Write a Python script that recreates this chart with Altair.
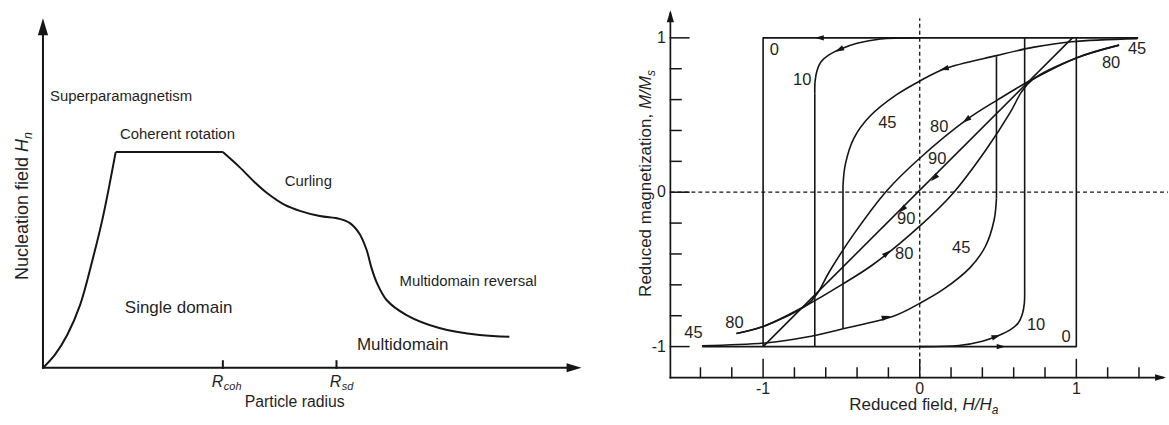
import altair as alt
import pandas as pd

FONT = "Liberation Sans"
INK = "#151515"
TXT = "#1f1f1f"

# ======================= LEFT PANEL (arbitrary units 0..100) =======================
NUC_R = [0.0, 2.2, 4.5, 6.9, 9.1, 11.1, 13.5, 33.4, 36.5, 39.3, 41.6, 44.9, 47.7,
         51.4, 55.1, 57.0, 58.8, 60.1, 61.0, 62.0, 63.8, 67.5, 73.6, 81.1, 86.6]
NUC_HN = [0.0, 3.7, 9.4, 18.0, 30.3, 42.9, 61.7, 61.7, 57.4, 53.1, 50.0, 46.6, 44.9,
          43.4, 42.6, 41.4, 38.3, 33.7, 28.6, 24.3, 19.4, 15.1, 11.4, 9.4, 8.9]
PLATEAU = (6, 7)  # indices of the coherent-rotation plateau ends

LEFT_TICK_R = [33.4, 54.5]
LEFT_TICK_LABEL_R = [31.35, 53.25]
LEFT_TICK_SUB = ["coh", "sd"]

REGION_SMALL = ["Superparamagnetism", "Coherent rotation", "Curling", "Multidomain reversal"]
REGION_SMALL_R = [1.3, 14.3, 44.9, 66.2]
REGION_SMALL_HN = [77.4, 66.6, 53.1, 24.6]
REGION_BIG = ["Single domain", "Multidomain"]
REGION_BIG_R = [15.2, 58.3]
REGION_BIG_HN = [17.1, 6.6]

# ======================= RIGHT PANEL (reduced field / magnetization) ===============
H0_TOP = [1.395, -1.0, -1.0]
M0_TOP = [1.0, 1.0, -1.0]
H0_BOT = [-1.388, 1.0, 1.0]
M0_BOT = [-1.0, -1.0, 1.0]

H10_DN = [0.0, -0.25, -0.40, -0.50, -0.58, -0.63, -0.655, -0.668, -0.67, -0.67]
M10_DN = [1.0, 0.993, 0.965, 0.93, 0.89, 0.845, 0.79, 0.72, 0.64, -1.0]
H10_UP = [0.0, 0.25, 0.40, 0.50, 0.58, 0.63, 0.655, 0.668, 0.67, 0.67]
M10_UP = [-1.0, -0.993, -0.965, -0.93, -0.89, -0.845, -0.79, -0.72, -0.64, 1.0]

H45_DN = [1.39, 0.97, 0.73, 0.49, 0.16, 0.0, -0.15, -0.32, -0.42, -0.475, -0.49, -0.49]
M45_DN = [0.995, 0.975, 0.94, 0.885, 0.80, 0.72, 0.63, 0.49, 0.35, 0.18, 0.04, -0.88]
H45_UP = [-1.39, -0.97, -0.73, -0.49, -0.16, 0.0, 0.15, 0.32, 0.42, 0.475, 0.49, 0.49]
M45_UP = [-0.995, -0.975, -0.94, -0.885, -0.80, -0.72, -0.63, -0.49, -0.35, -0.18, -0.04, 0.88]

H80_DN = [1.273, 1.0, 0.70, 0.50, 0.30, 0.0, -0.21, -0.42, -0.58, -0.65, -0.72, -1.0, -1.17]
M80_DN = [0.953, 0.87, 0.72, 0.60, 0.47, 0.22, 0.01, -0.27, -0.52, -0.65, -0.73, -0.87, -0.915]
H80_UP = [-1.17, -1.0, -0.70, -0.50, -0.30, 0.0, 0.21, 0.42, 0.58, 0.65, 0.72, 1.0, 1.273]
M80_UP = [-0.915, -0.87, -0.72, -0.60, -0.47, -0.22, -0.01, 0.27, 0.52, 0.65, 0.73, 0.87, 0.953]

H90 = [-1.0, 0.975]
M90 = [-1.0, 1.0]

ARROW_H = [-0.641, -0.514, 0.156, 0.297, 0.092, -0.112, -0.208, -0.214, 0.52, 0.488]
ARROW_M = [1.0, 0.923, 0.80, 0.468, 0.092, -0.112, -0.395, -0.81, -1.0, -0.934]
ARROW_ANGLE = [270, 244, 255, 233, 225, 225, 51, 75, 90, 71]

CURVE_LABEL = ["0", "10", "45", "80", "90", "90", "80", "45", "10", "0", "45", "80", "80", "45"]
CURVE_LABEL_H = [-0.928, -0.750, -0.207, 0.124, 0.112, -0.086, -0.099, 0.265, 0.743, 0.935,
                 1.388, 1.222, -1.183, -1.445]
CURVE_LABEL_M = [0.920, 0.726, 0.448, 0.422, 0.215, -0.173, -0.400, -0.361, -0.860, -0.937,
                 0.927, 0.836, -0.846, -0.911]

Y_TICKS = [-1.0, -0.8, -0.6, -0.4, -0.2, 0.0, 0.2, 0.4, 0.6, 0.8, 1.0]
X_TICKS = [-1.4, -1.2, -1.0, -0.8, -0.6, -0.4, -0.2, 0.0, 0.2, 0.4, 0.6, 0.8, 1.0, 1.2, 1.4]
MAJOR_TICKS = [-1.0, 0.0, 1.0]
MAJOR_LABELS = ["-1", "0", "1"]

# axis frame of the right panel
AX_H = -1.592      # y axis position (field value)
AX_M = -1.2006     # x axis position (magnetization value)
AX_H_END = 1.573
AX_M_END = 1.179
DASH_H_END = 1.585
DASH_M_END = 1.127

# ---------------------------------------------------------------------------
LX = alt.Scale(domain=[-7.978, 101.48], nice=False, zero=False)
LY = alt.Scale(domain=[-16.286, 105.143], nice=False, zero=False)
RX = alt.Scale(domain=[-2.0447, 1.5853], nice=False, zero=False)
RY = alt.Scale(domain=[-1.5068, 1.2440], nice=False, zero=False)

ARROW_CENTER = "M0,-1L0.6,1L-0.6,1Z"
ARROW_TIP = "M0,0L0.6,2L-0.6,2Z"


def seg_df(segments):
    rows = []
    for sid, (xs, ys) in enumerate(segments):
        for i, (a, b) in enumerate(zip(xs, ys)):
            rows.append({"seg": sid, "i": i, "x": a, "y": b})
    return pd.DataFrame(rows)


def lines(segments, sx, sy, interp, width):
    return alt.Chart(seg_df(segments)).mark_line(
        interpolate=interp, strokeWidth=width, color=INK, strokeJoin="round"
    ).encode(
        x=alt.X("x:Q", scale=sx, axis=None),
        y=alt.Y("y:Q", scale=sy, axis=None),
        detail="seg:N",
        order="i:Q",
    )


def rules(x, x2, y, y2, sx, sy, width, dash=None):
    df = pd.DataFrame({"x": x, "x2": x2, "y": y, "y2": y2})
    kw = dict(color=INK, strokeWidth=width, strokeCap="square")
    if dash:
        kw = dict(color=INK, strokeWidth=width, strokeDash=dash)
    return alt.Chart(df).mark_rule(**kw).encode(
        x=alt.X("x:Q", scale=sx, axis=None), x2="x2:Q",
        y=alt.Y("y:Q", scale=sy, axis=None), y2="y2:Q",
    )


def texts(t, x, y, sx, sy, **kw):
    df = pd.DataFrame({"t": t, "x": x, "y": y})
    props = dict(font=FONT, color=TXT)
    props.update(kw)
    return alt.Chart(df).mark_text(**props).encode(
        x=alt.X("x:Q", scale=sx, axis=None),
        y=alt.Y("y:Q", scale=sy, axis=None),
        text="t:N",
    )


def arrows(x, y, ang, sx, sy, shape, size):
    df = pd.DataFrame({"x": x, "y": y, "a": ang})
    return alt.Chart(df).mark_point(
        shape=shape, filled=True, size=size, color=INK, opacity=1, strokeWidth=0
    ).encode(
        x=alt.X("x:Q", scale=sx, axis=None),
        y=alt.Y("y:Q", scale=sy, axis=None),
        angle=alt.Angle("a:Q", scale=None),
    )


# ======================= build left =======================
p0, p1 = PLATEAU
left_layers = [
    rules([0, 0], [0, 98.5], [0, 0], [98.5, 0], LX, LY, 2.0),
    arrows([0], [100], [0], LX, LY, ARROW_TIP, 289),
    arrows([100], [0], [90], LX, LY, ARROW_TIP, 225),
    rules(LEFT_TICK_R, LEFT_TICK_R, [0, 0], [1.9, 1.9], LX, LY, 2.0),
    lines([(NUC_R[:p0 + 1], NUC_HN[:p0 + 1]), (NUC_R[p1:], NUC_HN[p1:])], LX, LY, "catmull-rom", 2.0),
    lines([(NUC_R[p0:p1 + 1], NUC_HN[p0:p1 + 1])], LX, LY, "linear", 2.0),
    texts(REGION_SMALL, REGION_SMALL_R, REGION_SMALL_HN, LX, LY,
          fontSize=14.9, align="left", baseline="middle"),
    texts(REGION_BIG, REGION_BIG_R, REGION_BIG_HN, LX, LY,
          fontSize=17, align="left", baseline="middle"),
    texts(["R", "R"], LEFT_TICK_LABEL_R, [-5.43, -5.43], LX, LY,
          fontSize=16, fontStyle="italic", align="left", baseline="alphabetic"),
    texts(LEFT_TICK_SUB, LEFT_TICK_LABEL_R, [-5.43, -5.43], LX, LY,
          fontSize=11, fontStyle="italic", align="left", baseline="alphabetic", dx=12, dy=3),
    texts(["Particle radius"], [46.75], [-11.1], LX, LY,
          fontSize=15.8, align="center", baseline="alphabetic"),
    texts(["Nucleation field"], [-2.78], [25.14], LX, LY,
          fontSize=18, align="left", baseline="alphabetic", angle=270),
    texts(["H"], [-2.78], [25.14], LX, LY,
          fontSize=18, fontStyle="italic", align="left", baseline="alphabetic", angle=270, dx=128),
    texts(["n"], [-2.78], [25.14], LX, LY,
          fontSize=12.5, fontStyle="italic", align="left", baseline="alphabetic", angle=270,
          dx=141, dy=4),
]
left = alt.layer(*left_layers).properties(width=590, height=425)

# ======================= build right =======================
ytick_len = [0.118 if v in MAJOR_TICKS else 0.068 for v in Y_TICKS]
xtick_len = [0.1165 if v in MAJOR_TICKS else 0.0615 for v in X_TICKS]

right_layers = [
    # dashed zero lines
    rules([AX_H], [DASH_H_END], [0.0], [0.0], RX, RY, 1.3, dash=[4, 3]),
    rules([0.0], [0.0], [AX_M], [DASH_M_END], RX, RY, 1.3, dash=[4, 3]),
    # axes
    rules([AX_H, AX_H], [AX_H, AX_H_END - 0.02], [AX_M, AX_M], [AX_M_END - 0.02, AX_M], RX, RY, 1.7),
    arrows([AX_H], [AX_M_END], [0], RX, RY, ARROW_TIP, 144),
    arrows([AX_H_END], [AX_M], [90], RX, RY, ARROW_TIP, 121),
    rules([AX_H] * len(Y_TICKS), [AX_H + d for d in ytick_len], Y_TICKS, Y_TICKS, RX, RY, 1.5),
    rules(X_TICKS, X_TICKS, [AX_M] * len(X_TICKS), [AX_M + d for d in xtick_len], RX, RY, 1.5),
    texts(MAJOR_LABELS, [-1.62] * 3, MAJOR_TICKS, RX, RY,
          fontSize=16, align="right", baseline="middle"),
    texts(MAJOR_LABELS, MAJOR_TICKS, [-1.274] * 3, RX, RY,
          fontSize=16, align="center", baseline="middle"),
    # loops: straight parts
    lines([(H0_TOP, M0_TOP), (H0_BOT, M0_BOT), (H90, M90),
           (H10_DN[-2:], M10_DN[-2:]), (H10_UP[-2:], M10_UP[-2:]),
           (H45_DN[-2:], M45_DN[-2:]), (H45_UP[-2:], M45_UP[-2:])],
          RX, RY, "linear", 1.6),
    # loops: curved parts
    lines([(H10_DN[:-1], M10_DN[:-1]), (H10_UP[:-1], M10_UP[:-1]),
           (H45_DN[:-1], M45_DN[:-1]), (H45_UP[:-1], M45_UP[:-1]),
           (H80_DN, M80_DN), (H80_UP, M80_UP)],
          RX, RY, "catmull-rom", 1.6),
    arrows(ARROW_H, ARROW_M, ARROW_ANGLE, RX, RY, ARROW_CENTER, 81),
    texts(CURVE_LABEL, CURVE_LABEL_H, CURVE_LABEL_M, RX, RY,
          fontSize=16.5, align="center", baseline="middle"),
    # axis titles
    texts(["Reduced field,"], [-0.450], [-1.410], RX, RY,
          fontSize=17, align="left", baseline="alphabetic"),
    texts(["H/H"], [-0.450], [-1.410], RX, RY,
          fontSize=17, fontStyle="italic", align="left", baseline="alphabetic", dx=113.4),
    texts(["a"], [-0.450], [-1.410], RX, RY,
          fontSize=12, fontStyle="italic", align="left", baseline="alphabetic", dx=142.7, dy=4),
    texts(["Reduced magnetization,"], [-1.713], [-0.678], RX, RY,
          fontSize=17, align="left", baseline="alphabetic", angle=270),
    texts(["M/M"], [-1.713], [-0.678], RX, RY,
          fontSize=17, fontStyle="italic", align="left", baseline="alphabetic", angle=270, dx=188),
    texts(["s"], [-1.713], [-0.678], RX, RY,
          fontSize=12, fontStyle="italic", align="left", baseline="alphabetic", angle=270,
          dx=221, dy=4),
]
right = alt.layer(*right_layers).properties(width=569, height=425)

chart = alt.hconcat(left, right, spacing=10).properties(padding=0).configure_view(strokeWidth=0)

chart.save("out.html", embed_options={"renderer": "svg", "actions": False})
